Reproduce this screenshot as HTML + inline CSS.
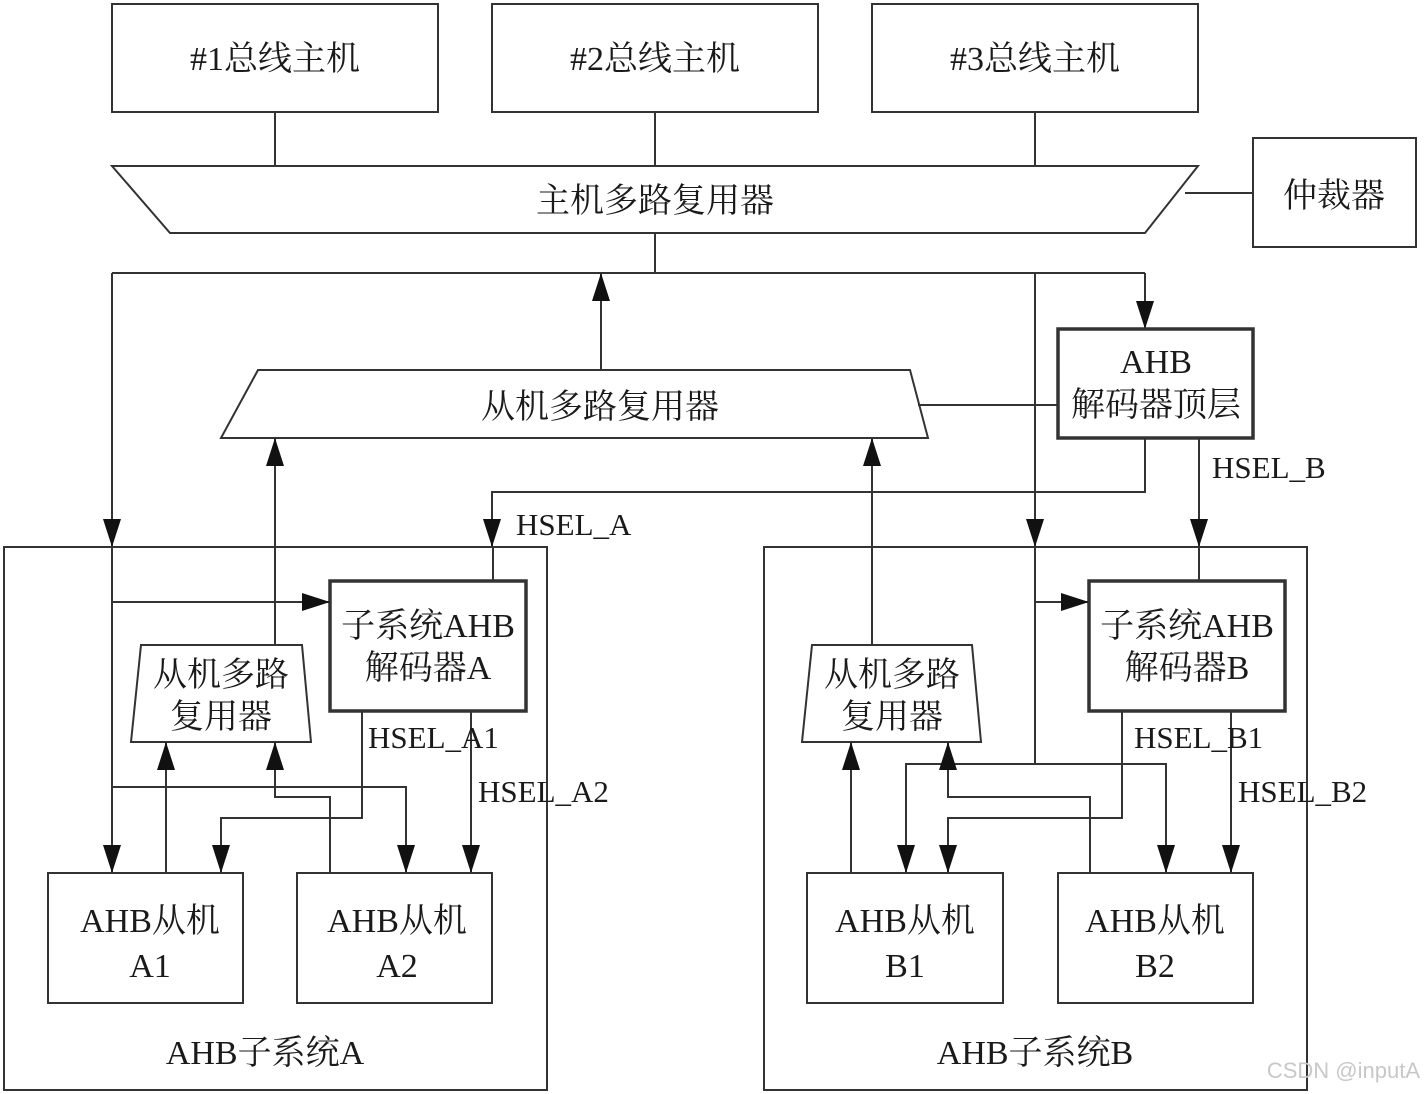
<!DOCTYPE html>
<html><head><meta charset="utf-8"><style>
html,body{margin:0;padding:0;background:#fff;}
svg{display:block;}
text{font-family:"Liberation Serif","Noto Serif CJK SC",serif;fill:#1a1a1a;}
</style></head><body>
<svg width="1426" height="1094" viewBox="0 0 1426 1094" xmlns="http://www.w3.org/2000/svg">
<defs>
<marker id="a" markerUnits="userSpaceOnUse" markerWidth="28" markerHeight="18" refX="28" refY="9" viewBox="0 0 28 18" orient="auto"><path d="M0,0 L28,9 L0,18 Z" fill="#111"/></marker>
</defs>
<g fill="none" stroke="#333" stroke-width="2">
<rect x="112" y="4" width="326" height="108"/>
<rect x="492" y="4" width="326" height="108"/>
<rect x="872" y="4" width="326" height="108"/>
<path d="M275 112V166M655 112V166M1035 112V166"/>
<polygon points="112,166 1198,166 1145,233 170,233"/>
<rect x="1253" y="138" width="163" height="109"/>
<path d="M1185 193H1253"/>
<path d="M655 233V273M112 273H1145"/>
<path d="M1145 273V329" marker-end="url(#a)"/>
<path d="M112 273V547" marker-end="url(#a)"/>
<path d="M1035 273V547" marker-end="url(#a)"/>
<path d="M601 370V273" marker-end="url(#a)"/>
<polygon points="258,370 910,370 928,438 221,438"/>
<path d="M918 405H1058"/>
<rect x="1058" y="329" width="195" height="109" stroke-width="3.5"/>
<path d="M1145 438V492H492V547" marker-end="url(#a)"/>
<path d="M1199 438V547" marker-end="url(#a)"/>
<rect x="4" y="547" width="543" height="543"/>
<rect x="764" y="547" width="543" height="543"/>
<!-- A -->
<rect x="330" y="581" width="196" height="130" stroke-width="3.5"/>
<path d="M493 547V581"/>
<path d="M112 547V873" marker-end="url(#a)"/>
<path d="M112 602H330" marker-end="url(#a)"/>
<path d="M275 645V438" marker-end="url(#a)"/>
<polygon points="141,645 302,645 311,742 131,742"/>
<path d="M166 873V742" marker-end="url(#a)"/>
<path d="M330 873V797H275V742" marker-end="url(#a)"/>
<path d="M112 787H406V873" marker-end="url(#a)"/>
<path d="M362 711V818H221V873" marker-end="url(#a)"/>
<path d="M471 711V873" marker-end="url(#a)"/>
<rect x="48" y="873" width="195" height="130"/>
<rect x="297" y="873" width="195" height="130"/>
<!-- B -->
<rect x="1089" y="581" width="196" height="130" stroke-width="3.5"/>
<path d="M1199 547V581"/>
<path d="M1035 547V764"/>
<path d="M1035 602H1089" marker-end="url(#a)"/>
<path d="M872 645V438" marker-end="url(#a)"/>
<polygon points="812,645 972,645 981,742 802,742"/>
<path d="M851 873V742" marker-end="url(#a)"/>
<path d="M906 873V764H1166V873" marker-end="url(#a)"/>
<path d="M906 764V873" marker-end="url(#a)"/>
<path d="M1090 873V797H948V742" marker-end="url(#a)"/>
<path d="M1122 711V818H948V873" marker-end="url(#a)"/>
<path d="M1231 711V873" marker-end="url(#a)"/>
<rect x="807" y="873" width="196" height="130"/>
<rect x="1058" y="873" width="195" height="130"/>
</g>
<g font-size="34" text-anchor="middle">
<text x="275" y="70">#1总线主机</text>
<text x="655" y="70">#2总线主机</text>
<text x="1035" y="70">#3总线主机</text>
<text x="655" y="212">主机多路复用器</text>
<text x="1334" y="207">仲裁器</text>
<text x="600" y="418">从机多路复用器</text>
<text x="1156" y="373">AHB</text>
<text x="1156" y="416">解码器顶层</text>
<text x="428" y="637">子系统AHB</text>
<text x="428" y="679">解码器A</text>
<text x="1187" y="637">子系统AHB</text>
<text x="1187" y="679">解码器B</text>
<text x="221" y="686">从机多路</text>
<text x="221" y="728">复用器</text>
<text x="892" y="686">从机多路</text>
<text x="892" y="728">复用器</text>
<text x="150" y="932">AHB从机</text>
<text x="150" y="977">A1</text>
<text x="397" y="932">AHB从机</text>
<text x="397" y="977">A2</text>
<text x="905" y="932">AHB从机</text>
<text x="905" y="977">B1</text>
<text x="1155" y="932">AHB从机</text>
<text x="1155" y="977">B2</text>
<text x="265" y="1064">AHB子系统A</text>
<text x="1035" y="1064">AHB子系统B</text>
</g>
<g font-size="31">
<text x="516" y="535">HSEL_A</text>
<text x="1212" y="478">HSEL_B</text>
<text x="368" y="748">HSEL_A1</text>
<text x="478" y="802">HSEL_A2</text>
<text x="1134" y="748">HSEL_B1</text>
<text x="1238" y="802">HSEL_B2</text>
</g>
<text x="1420" y="1078" font-size="22" text-anchor="end" style="font-family:'Liberation Sans',sans-serif;fill:#c8c8c8">CSDN @inputA</text>
</svg>
</body></html>
